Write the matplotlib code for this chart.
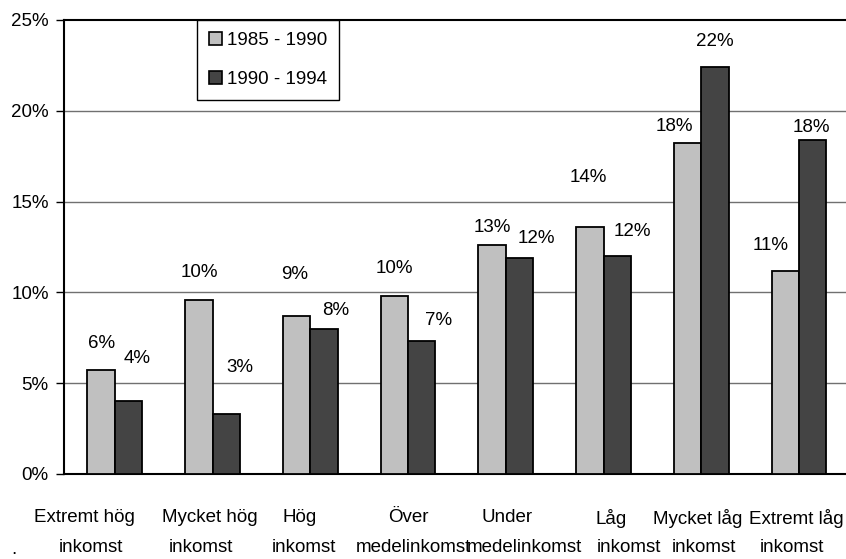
import matplotlib
matplotlib.use("Agg")
import matplotlib.pyplot as plt
from matplotlib.patches import Patch
import numpy as np

plt.rcParams['font.family'] = ['Liberation Sans', 'DejaVu Sans']

# ---- data ----
cat_line1 = ["Extremt hög", "Mycket hög", "Hög", "Över", "Under", "Låg", "Mycket låg", "Extremt låg"]
cat_line2 = ["inkomst", "inkomst", "inkomst", "medelinkomst", "medelinkomst", "inkomst", "inkomst", "inkomst"]
series_names = ["1985 - 1990", "1990 - 1994"]
vals_8590 = [5.7, 9.6, 8.7, 9.8, 12.6, 13.6, 18.2, 11.2]
vals_9094 = [4.0, 3.3, 8.0, 7.3, 11.9, 12.0, 22.4, 18.4]
yticks = [0, 5, 10, 15, 20, 25]

# ---- layout of the value labels (Excel placed them irregularly) ----
lab_y1 = [7.17, 11.10, 11.01, 11.32, 13.57, 16.30, 19.16, 12.59]
lab_y2 = [6.34, 5.87, 9.03, 8.46, 12.98, 13.36, 23.84, 19.09]
lab_dx1 = [0, 0, -2, 0, 0, -2, -13, -15]
lab_dx2 = [9, 14, 12, 17, 17, 15, 0, -1]
# category label offsets (pixels) for the two lines
cat_dx1 = [-30, -3, -11, 0, 1, 8, -4, -3]
cat_dx2 = [-24, -12, -6, 5, 19, 25, 3, -7]

FS = 13.5
W, H = 846, 559
fig = plt.figure(figsize=(W / 100, H / 100), dpi=100)
left, right, top, bottom = 64, 848, 20, 474
ax = fig.add_axes([left / W, (H - bottom) / H, (right - left) / W, (bottom - top) / H])

x = np.arange(len(cat_line1))
bw = 0.28
light, dark = "#c0c0c0", "#444444"
ax.bar(x - bw / 2, vals_8590, bw, color=light, edgecolor="black", linewidth=1.3, zorder=3)
ax.bar(x + bw / 2, vals_9094, bw, color=dark, edgecolor="black", linewidth=1.3, zorder=3)

ax.set_xlim(-0.52, 7.5)
ax.set_ylim(0, 25)
ax.set_yticks(yticks)
ax.set_yticklabels([f"{t}%" for t in yticks], fontsize=FS)
ax.set_xticks([])
ax.tick_params(axis='y', direction='out', length=6, width=1, pad=5, colors='black')

for yv in yticks[1:-1]:
    ax.axhline(yv, color="#707070", linewidth=1.0, zorder=1)

for s in ["left", "bottom", "top"]:
    ax.spines[s].set_color("black")
    ax.spines[s].set_linewidth(1.5)
ax.spines["right"].set_visible(False)

for i in range(len(x)):
    ax.annotate(f"{round(vals_8590[i])}%", xy=(x[i] - bw / 2, lab_y1[i]), xytext=(lab_dx1[i], 0),
                textcoords="offset pixels", ha="center", va="center", fontsize=FS)
    ax.annotate(f"{round(vals_9094[i])}%", xy=(x[i] + bw / 2, lab_y2[i]), xytext=(lab_dx2[i], 0),
                textcoords="offset pixels", ha="center", va="center", fontsize=FS)
    ax.annotate(cat_line1[i], xy=(x[i], 0), xytext=(cat_dx1[i], -44), textcoords="offset pixels",
                ha="center", va="center", fontsize=FS, annotation_clip=False)
    ax.annotate(cat_line2[i], xy=(x[i], 0), xytext=(cat_dx2[i], -74), textcoords="offset pixels",
                ha="center", va="center", fontsize=FS, annotation_clip=False)

fig.text(14 / W, 1 - 549 / H, ".", fontsize=FS, ha="center", va="center")

handles = [Patch(facecolor=light, edgecolor="black", linewidth=1.2),
           Patch(facecolor=dark, edgecolor="black", linewidth=1.2)]
leg = ax.legend(handles, series_names, loc="upper left", bbox_to_anchor=((197 - left) / (right - left), 1.0),
                fontsize=FS, frameon=True, fancybox=False, edgecolor="black", framealpha=1,
                borderaxespad=0, handlelength=0.7, handleheight=0.7, handletextpad=0.3,
                borderpad=0.62, labelspacing=1.2)
leg.get_frame().set_linewidth(1.0)
leg.set_zorder(5)

fig.savefig("out.png", dpi=100, facecolor="white")
